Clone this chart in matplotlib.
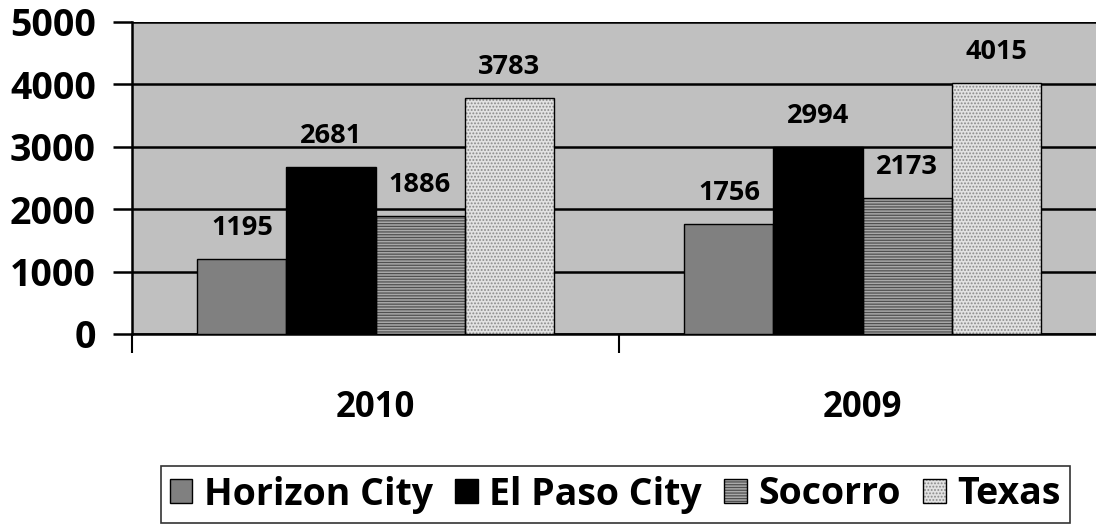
import matplotlib
matplotlib.use("Agg")
import matplotlib.pyplot as plt
from matplotlib.patches import Patch
from matplotlib.legend_handler import HandlerTuple
import numpy as np

categories = ["2010", "2009"]
series_names = ["Horizon City", "El Paso City", "Socorro", "Texas"]
horizon = [1195, 1756]
elpaso = [2681, 2994]
socorro = [1886, 2173]
texas = [3783, 4015]
yticks = [0, 1000, 2000, 3000, 4000, 5000]

plt.rcParams['font.family'] = ['Open Sans', 'DejaVu Sans']
plt.rcParams['font.weight'] = 'bold'
plt.rcParams['hatch.linewidth'] = 0.9

fig = plt.figure(figsize=(10.96, 5.29), dpi=100)
ax = fig.add_axes([132/1096, 1-334/529, (1106-132)/1096, (334-22)/529])
ax.set_facecolor('#c0c0c0')

styles = [
    dict(face='#808080', hatch=None, hcol=None),
    dict(face='#000000', hatch=None, hcol=None),
    dict(face='#a9a9a9', hatch='------', hcol='#505050'),
    dict(face='#e2e2e2', hatch='.....', hcol='#8a8a8a'),
]
data = [horizon, elpaso, socorro, texas]
x = np.arange(len(categories))
w = 0.1828
handles = []
for i, (vals, st) in enumerate(zip(data, styles)):
    pos = x + (i - 1.5) * w
    ax.bar(pos, vals, w, color=st['face'], linewidth=0, zorder=3)
    if st['hatch']:
        ax.bar(pos, vals, w, color='none', hatch=st['hatch'], edgecolor=st['hcol'],
               linewidth=0, zorder=4)
    ax.bar(pos, vals, w, color='none', edgecolor='black', linewidth=1.0, zorder=5)
    for p, v in zip(pos, vals):
        ax.annotate(str(v), (p, v), xytext=(0, 13), textcoords='offset points',
                    ha='center', va='bottom', fontsize=19.5, fontweight='bold', zorder=6)
    base = Patch(facecolor=st['face'], edgecolor='none')
    parts = [base]
    if st['hatch']:
        parts.append(Patch(facecolor='none', hatch=st['hatch'], edgecolor=st['hcol'], linewidth=0))
    parts.append(Patch(facecolor='none', edgecolor='black', linewidth=1.0))
    handles.append(tuple(parts))

ax.set_xlim(-0.5, 1.5)
ax.set_ylim(0, 5000)
ax.set_yticks(yticks)
ax.set_yticklabels([str(t) for t in yticks], fontsize=27, fontweight='bold')
ax.yaxis.grid(True, color='black', linewidth=1.8, zorder=1)
ax.set_axisbelow(True)
ax.tick_params(axis='y', length=14, width=1.8, direction='out', pad=12)

ax.set_xticks(x)
ax.set_xticklabels(categories, fontsize=25, fontweight='bold')
ax.tick_params(axis='x', which='major', length=0, pad=40)
ax.set_xticks([-0.5, 0.5, 1.5], minor=True)
ax.tick_params(axis='x', which='minor', length=14, width=1.5, direction='out')

for s in ['right', 'top']:
    ax.spines[s].set_visible(False)
ax.spines['left'].set_linewidth(1.8)
ax.spines['bottom'].set_linewidth(1.8)

leg = fig.legend(handles, series_names, loc='center', bbox_to_anchor=(615/1096, 1-494.5/529),
                 ncol=4, frameon=True, fancybox=False, edgecolor='black',
                 handler_map={tuple: HandlerTuple(ndivide=1, pad=0)},
                 handlelength=0.6, handleheight=0.6, handletextpad=0.3, columnspacing=0.6,
                 borderpad=0.25, prop={'weight': 'bold', 'size': 27})
leg.get_frame().set_linewidth(1.2)

fig.savefig('out.png', dpi=100)
